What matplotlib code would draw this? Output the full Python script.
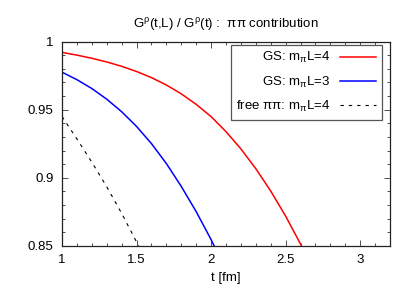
import numpy as np
import matplotlib
matplotlib.use("Agg")
import matplotlib.pyplot as plt
from matplotlib.ticker import MultipleLocator

plt.rcParams['font.family'] = ['Liberation Sans', 'DejaVu Sans']
plt.rcParams['mathtext.fontset'] = 'custom'
plt.rcParams['mathtext.rm'] = 'Liberation Sans'
plt.rcParams['mathtext.it'] = 'Liberation Sans'
plt.rcParams['mathtext.bf'] = 'Liberation Sans:bold'

# data
t_red = [1.0, 1.1, 1.2, 1.3, 1.4, 1.5, 1.6, 1.7, 1.8, 1.9, 2.0, 2.1, 2.2, 2.3, 2.4, 2.5, 2.6, 2.7]
gs_L4 = [0.9920, 0.9900, 0.9877, 0.9850, 0.9818, 0.9780, 0.9735, 0.9681, 0.9616, 0.9539,
         0.9449, 0.9339, 0.9212, 0.9067, 0.8903, 0.8719, 0.8514, 0.8288]
t_blue = [1.0, 1.1, 1.2, 1.3, 1.4, 1.5, 1.6, 1.7, 1.8, 1.9, 2.0, 2.1]
gs_L3 = [0.9775, 0.9720, 0.9655, 0.9577, 0.9485, 0.9377, 0.9251, 0.9105, 0.8937, 0.8752,
         0.8547, 0.8322]
t_free = [1.0, 1.1, 1.2, 1.3, 1.4, 1.5, 1.6]
free_L4 = [0.945, 0.9285, 0.9115, 0.8935, 0.8740, 0.8530, 0.8310]

labels = [r'GS: m$_\pi$L=4', r'GS: m$_\pi$L=3', r'free $\pi\pi$: m$_\pi$L=4']
title = r'G$^\rho$(t,L) / G$^\rho$(t) :  $\pi\pi$ contribution'

fig = plt.figure(figsize=(4.15, 2.91), dpi=100)
ax = fig.add_axes([62/415, 1-246/291, (390-62)/415, (246-41.5)/291])

ax.plot(t_red, gs_L4, color='#ff0000', lw=1.1, label=labels[0])
ax.plot(t_blue, gs_L3, color='#0000ff', lw=1.1, label=labels[1])
ax.plot(t_free, free_L4, color='black', lw=0.8, dashes=(3, 4.5), label=labels[2])

ax.set_xlim(1, 3.2)
ax.set_ylim(0.85, 1.0)
ax.xaxis.set_minor_locator(MultipleLocator(0.1))
ax.yaxis.set_minor_locator(MultipleLocator(0.01))
ax.set_xticks([1, 1.5, 2, 2.5, 3])
ax.set_xticklabels(['1', '1.5', '2', '2.5', '3'])
ax.set_yticks([0.85, 0.9, 0.95, 1.0])
ax.set_yticklabels(['0.85', '0.9', '0.95', '1'])
ax.tick_params(which='both', direction='in', top=True, right=True, labelsize=9.5,
               width=0.6, color='#333333')
ax.tick_params(which='major', length=4.5, pad=6)
ax.tick_params(which='minor', length=2.5)
for s in ax.spines.values():
    s.set_linewidth(0.9)
    s.set_color('#222222')

ax.set_xlabel('t [fm]', fontsize=9.5, labelpad=4)
ax.set_title(title, fontsize=9.5, pad=10)

leg = ax.legend(loc='upper right', bbox_to_anchor=(382/415, 1-44.7/291),
                bbox_transform=fig.transFigure, borderaxespad=0,
                markerfirst=False, fancybox=False, fontsize=9.5,
                handlelength=2.8, handletextpad=0.7, labelspacing=0.7,
                borderpad=0.42, framealpha=1)
leg.get_frame().set_edgecolor('#555555')
leg.get_frame().set_linewidth(0.9)

fig.savefig('out.png', dpi=100)
